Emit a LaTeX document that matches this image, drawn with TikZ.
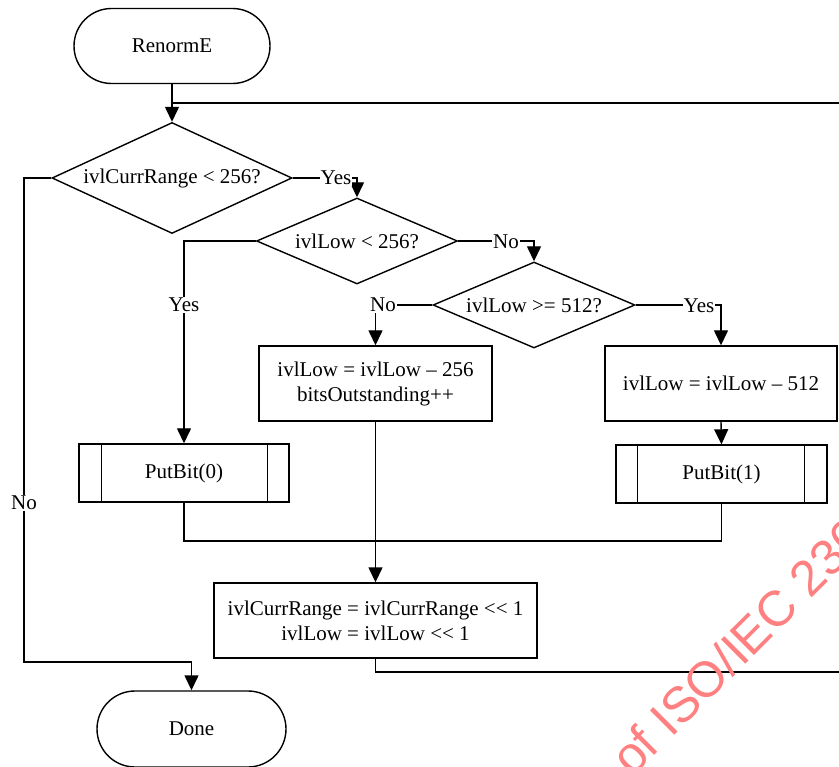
\documentclass[tikz,border=0pt]{standalone}
\usepackage{fontspec}
\setmainfont{Liberation Serif}
\newfontfamily\wmfont{Liberation Sans}
\usetikzlibrary{arrows.meta,shapes.geometric,shapes.misc,calc}
\tikzset{
  base/.style={draw, line width=1.4pt, font=\fontsize{21}{25}\selectfont, inner sep=0pt, align=center},
  term/.style={base, rounded rectangle},
  dec/.style={base, diamond, aspect=2.3},
  proc/.style={base, rectangle},
  ln/.style={line width=1.4pt},
  arr/.style={ln, -{Triangle[length=15pt,width=14pt]}},
  lbl/.style={fill=white, inner sep=1pt, font=\fontsize{21}{25}\selectfont},
  wm/.style={text=red!50, font=\wmfont\fontsize{50}{50}\selectfont, rotate=45, anchor=base west, inner sep=0pt}
}
\begin{document}
\begin{tikzpicture}[x=1pt,y=-1pt]
\clip (0,0) rectangle (839,767);
\fill[white] (0,0) rectangle (839,767);

\node[term, minimum width=196pt, minimum height=75pt] (start) at (172,46) {RenormE};
\node[dec, aspect=2.16, minimum width=240pt, minimum height=111pt] (d1) at (172,178) {ivlCurrRange < 256?};
\node[dec, aspect=2.34, minimum width=201pt, minimum height=86pt] (d2) at (357,241) {ivlLow < 256?};
\node[dec, aspect=2.35, minimum width=202pt, minimum height=86pt] (d3) at (534,305) {ivlLow >= 512?};
\node[proc, minimum width=233pt, minimum height=75pt] (A) at (375.5,383.5) {ivlLow = ivlLow – 256\\bitsOutstanding++};
\node[proc, minimum width=232pt, minimum height=75pt] (B) at (721,383.5) {ivlLow = ivlLow – 512};
\node[proc, minimum width=210pt, minimum height=58pt] (pb0) at (184,473) {PutBit(0)};
\node[proc, minimum width=211pt, minimum height=58pt] (pb1) at (721.5,474) {PutBit(1)};
\node[proc, minimum width=323pt, minimum height=75pt] (C) at (375.5,620.5) {ivlCurrRange = ivlCurrRange <{}< 1\\ivlLow = ivlLow <{}< 1};
\node[term, minimum width=189pt, minimum height=76pt] (done) at (191.5,729) {Done};

% predefined-process inner lines
\draw[ln] ($(pb0.north west)+(23,0)$) -- ($(pb0.south west)+(23,0)$);
\draw[ln] ($(pb0.north east)+(-22,0)$) -- ($(pb0.south east)+(-22,0)$);
\draw[ln] ($(pb1.north west)+(22,0)$) -- ($(pb1.south west)+(22,0)$);
\draw[ln] ($(pb1.north east)+(-23,0)$) -- ($(pb1.south east)+(-23,0)$);

% connectors
\coordinate (join) at (172,103);
\draw[arr] (start.south) -- (d1.north);
\draw[ln] (C.south) -- (375.5,672) -- (880,672) -- (880,103) -- (join);

\draw[arr] (d1.west) -- (24,178) -- (24,662) -- (191.5,662) -- (done.north);
\node[lbl] (lno1) at (24,503) {No};

\draw[arr] (d1.east) -- (357,178) -- (d2.north);
\node[lbl] (lyes1) at (336,178) {Yes};

\draw[arr] (d2.west) -- (184,241) -- (pb0.north);
\node[lbl] (lyes2) at (184,305) {Yes};

\draw[arr] (d2.east) -- (534,241) -- (d3.north);
\node[lbl] (lno2) at (506,242) {No};

\draw[arr] (d3.west) -- (375.5,305) -- (A.north);
\node[lbl] (lno3) at (383,305) {No};

\draw[arr] (d3.east) -- (721,305) -- (B.north);
\node[lbl] (lyes3) at (699,306) {Yes};

\draw[arr] (B.south) -- (pb1.north);
\draw[ln] (pb0.south) -- (184,541) -- (721.5,541) -- (pb1.south);
\draw[arr] (A.south) -- (C.north);

% watermark
\node[wm] (wmark) at (632,778) {of ISO/IEC 230};
\end{tikzpicture}
\end{document}
